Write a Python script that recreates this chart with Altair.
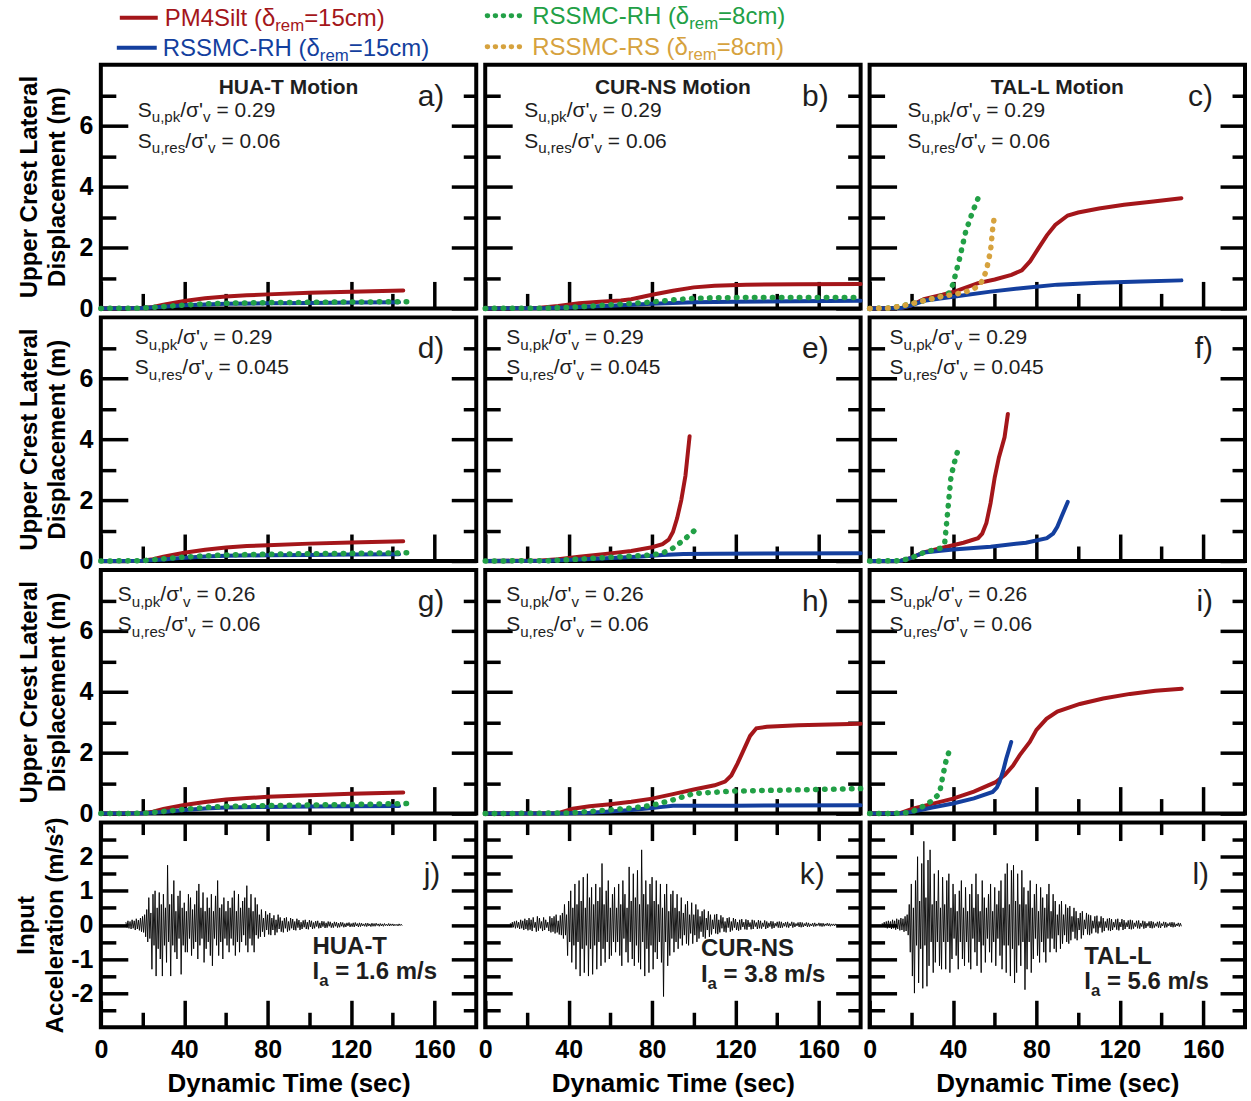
import altair as alt
import pandas as pd

FONT = "Liberation Sans, Arial, sans-serif"

# ---------------- data: displacement curves (t [s], displacement [m]) ----------------
A_PM4 = [(0, 0), (20, 0.01), (25, 0.05), (30, 0.12), (40, 0.24), (50, 0.33), (60, 0.39), (70, 0.43), (80, 0.46), (100, 0.51), (120, 0.55), (145, 0.59)]
A_RH15 = [(0, 0), (20, 0.01), (30, 0.05), (40, 0.1), (50, 0.13), (60, 0.15), (80, 0.17), (100, 0.18), (120, 0.19), (143, 0.2)]
A_RH8 = [(0, 0), (20, 0.01), (30, 0.06), (40, 0.11), (50, 0.15), (60, 0.17), (80, 0.19), (100, 0.2), (120, 0.21), (148, 0.22)]

B_PM4 = [(0, 0), (25, 0.01), (35, 0.08), (45, 0.17), (55, 0.22), (65, 0.26), (70, 0.3), (80, 0.45), (90, 0.58), (100, 0.69), (110, 0.74), (125, 0.78), (150, 0.79), (180, 0.8)]
B_RH15 = [(0, 0), (30, 0.01), (40, 0.03), (50, 0.06), (60, 0.09), (70, 0.12), (80, 0.15), (90, 0.18), (100, 0.2), (120, 0.22), (180, 0.25)]
B_RH8 = [(0, 0), (30, 0.01), (40, 0.03), (50, 0.07), (60, 0.12), (70, 0.16), (80, 0.21), (90, 0.28), (100, 0.33), (110, 0.35), (130, 0.36), (180, 0.36)]

C_PM4 = [(0, 0), (15, 0.01), (20, 0.1), (26, 0.3), (35, 0.45), (41, 0.56), (52, 0.83), (60, 0.95), (68, 1.1), (73, 1.25), (77, 1.55), (81, 1.98), (85, 2.4), (89, 2.74), (95, 3.05), (100, 3.15), (110, 3.28), (122, 3.4), (135, 3.5), (149.5, 3.62)]
C_RH15 = [(0, 0), (15, 0.01), (20, 0.1), (26, 0.25), (40, 0.38), (58, 0.55), (75, 0.68), (90, 0.78), (110, 0.84), (130, 0.88), (149.5, 0.92)]
C_RH8 = [(0, 0), (10, 0.01), (18, 0.12), (26, 0.25), (34, 0.39), (38, 0.5), (40, 0.8), (43, 1.6), (46, 2.5), (49, 3.1), (52, 3.62)]
C_RS8 = [(0, 0), (10, 0.01), (18, 0.12), (26, 0.25), (34, 0.38), (42, 0.48), (48, 0.58), (52, 0.72), (54, 0.9), (56, 1.25), (58, 1.9), (59, 2.6), (60, 3.1)]

D_PM4 = [(0, 0), (20, 0.01), (25, 0.06), (30, 0.14), (40, 0.27), (50, 0.37), (60, 0.44), (70, 0.49), (80, 0.52), (100, 0.57), (120, 0.61), (145, 0.65)]
D_RH15 = [(0, 0), (20, 0.01), (30, 0.05), (40, 0.11), (50, 0.15), (60, 0.17), (80, 0.19), (100, 0.2), (120, 0.21), (143, 0.22)]
D_RH8 = [(0, 0), (20, 0.01), (30, 0.07), (40, 0.13), (50, 0.17), (60, 0.2), (80, 0.22), (100, 0.24), (120, 0.25), (148, 0.27)]

E_PM4 = [(0, 0), (25, 0.01), (35, 0.06), (45, 0.14), (60, 0.25), (70, 0.33), (80, 0.45), (85, 0.55), (88, 0.7), (90, 0.95), (92, 1.4), (94, 2.0), (96, 2.8), (98, 4.1)]
E_RH15 = [(0, 0), (30, 0.01), (45, 0.05), (60, 0.1), (75, 0.15), (85, 0.2), (95, 0.23), (110, 0.24), (180, 0.25)]
E_RH8 = [(0, 0), (30, 0.01), (45, 0.06), (60, 0.12), (75, 0.18), (80, 0.2), (85, 0.26), (90, 0.42), (95, 0.68), (100, 0.98), (103, 1.17)]

F_PM4 = [(0, 0), (15, 0.01), (20, 0.1), (26, 0.28), (34, 0.42), (45, 0.6), (52, 0.75), (54, 0.9), (56, 1.25), (58, 1.9), (60, 2.75), (62, 3.4), (64.7, 4.06), (66.3, 4.83)]
F_RH15 = [(0, 0), (15, 0.01), (20, 0.1), (26, 0.28), (40, 0.38), (58, 0.47), (75, 0.6), (85, 0.75), (88, 0.9), (90, 1.12), (92, 1.45), (95, 1.94)]
F_RH8 = [(0, 0), (15, 0.01), (20, 0.1), (26, 0.28), (34, 0.42), (36, 0.58), (37.5, 1.67), (39, 2.75), (40.5, 3.2), (42.3, 3.63)]

G_PM4 = [(0, 0), (20, 0.01), (25, 0.06), (30, 0.15), (40, 0.28), (50, 0.38), (60, 0.46), (70, 0.51), (80, 0.55), (100, 0.6), (120, 0.65), (145, 0.69)]
G_RH15 = [(0, 0), (20, 0.01), (30, 0.05), (40, 0.12), (50, 0.17), (60, 0.2), (80, 0.22), (100, 0.23), (120, 0.24), (143, 0.25)]
G_RH8 = [(0, 0), (20, 0.01), (30, 0.07), (40, 0.14), (50, 0.2), (60, 0.24), (80, 0.26), (100, 0.28), (120, 0.3), (148, 0.33)]

H_PM4 = [(0, 0), (35, 0.01), (42, 0.16), (50, 0.24), (60, 0.31), (70, 0.39), (80, 0.49), (90, 0.64), (100, 0.79), (110, 0.93), (115, 1.05), (118, 1.25), (121, 1.65), (124, 2.1), (127, 2.55), (130, 2.8), (135, 2.85), (150, 2.9), (180, 2.95)]
H_RH15 = [(0, 0), (40, 0.01), (50, 0.03), (60, 0.07), (70, 0.12), (80, 0.18), (85, 0.22), (90, 0.26), (120, 0.26), (180, 0.27)]
H_RH8 = [(0, 0), (40, 0.02), (50, 0.07), (60, 0.12), (70, 0.18), (80, 0.27), (90, 0.45), (100, 0.66), (110, 0.7), (120, 0.74), (150, 0.78), (180, 0.82)]

I_PM4 = [(0, 0), (15, 0.02), (20.7, 0.16), (30, 0.32), (40, 0.49), (50, 0.72), (60.7, 1.04), (65, 1.28), (68.8, 1.58), (72, 1.92), (76.8, 2.35), (80, 2.75), (84.8, 3.11), (90, 3.35), (100.8, 3.6), (112, 3.78), (124.9, 3.93), (137, 4.03), (149.7, 4.1)]
I_RH15 = [(0, 0), (15, 0.01), (20, 0.05), (30, 0.2), (40, 0.33), (50, 0.5), (59, 0.71), (61, 0.85), (62.3, 1.04), (64, 1.4), (65.5, 1.8), (67.9, 2.35)]
I_RH8 = [(0, 0), (15, 0.01), (20, 0.05), (26, 0.25), (30.3, 0.44), (33.5, 0.66), (35, 1.2), (36.7, 1.75), (38.3, 2.08)]

PANEL_SERIES = [
    {"PM4": A_PM4, "RH15": A_RH15, "RH8": A_RH8},
    {"PM4": B_PM4, "RH15": B_RH15, "RH8": B_RH8},
    {"PM4": C_PM4, "RH15": C_RH15, "RH8": C_RH8, "RS8": C_RS8},
    {"PM4": D_PM4, "RH15": D_RH15, "RH8": D_RH8},
    {"PM4": E_PM4, "RH15": E_RH15, "RH8": E_RH8},
    {"PM4": F_PM4, "RH15": F_RH15, "RH8": F_RH8},
    {"PM4": G_PM4, "RH15": G_RH15, "RH8": G_RH8},
    {"PM4": H_PM4, "RH15": H_RH15, "RH8": H_RH8},
    {"PM4": I_PM4, "RH15": I_RH15, "RH8": I_RH8},
]

# ---------------- data: input accelerations (1-s steps; peak +, peak -) ----------------
HUA_START = 12
HUA_POS = [0.08, 0.12, 0.1, 0.15, 0.12, 0.18, 0.14, 0.2, 0.25, 0.3,
           0.45, 0.8, 0.35, 0.9, 1.0, 0.5, 0.95, 0.6, 0.9,
           0.5, 1.75, 0.6, 0.9, 1.3, 0.4, 0.85, 1.0, 0.5, 0.65,
           0.4, 0.9, 0.8, 0.45, 0.6, 1.0, 1.2, 0.5, 0.95, 0.4,
           0.8, 0.5, 0.9, 0.4, 0.85, 1.3, 0.5, 0.6, 0.8, 0.4,
           0.7, 0.5, 0.8, 1.0, 0.4, 0.9, 0.5, 0.7, 0.8, 1.15,
           0.5, 0.9, 0.4, 0.8, 0.6, 0.3, 0.45, 0.2, 0.4, 0.3,
           0.35, 0.2, 0.28, 0.15, 0.3, 0.22, 0.12, 0.2, 0.22, 0.1,
           0.2, 0.17, 0.1, 0.18, 0.14, 0.08, 0.13, 0.15, 0.08, 0.14,
           0.12, 0.07, 0.11, 0.12, 0.06, 0.11, 0.1, 0.06, 0.1, 0.09,
           0.05, 0.09, 0.08, 0.05, 0.08, 0.07, 0.04, 0.06, 0.07, 0.04,
           0.06, 0.07, 0.04, 0.06, 0.05, 0.03, 0.05, 0.05, 0.03, 0.05,
           0.04, 0.05, 0.03, 0.04, 0.03, 0.04, 0.02, 0.04, 0.03, 0.03, 0.02, 0.02, 0.03, 0.02]
HUA_NEG = [-0.07, -0.1, -0.12, -0.1, -0.15, -0.12, -0.16, -0.2, -0.22, -0.35,
           -0.5, -0.4, -1.3, -0.6, -1.5, -0.7, -1.0, -1.5, -0.6,
           -1.1, -0.5, -1.5, -0.6, -0.8, -1.0, -0.4, -1.45, -0.6, -0.8,
           -0.8, -0.4, -0.9, -0.7, -0.5, -1.0, -0.6, -0.4, -1.1, -0.7,
           -0.5, -0.9, -1.2, -0.4, -0.6, -0.9, -0.5, -1.0, -0.4, -0.6,
           -0.8, -0.4, -0.6, -0.9, -0.5, -0.8, -0.5, -0.3, -0.6, -0.8,
           -0.4, -0.6, -0.8, -0.3, -0.4, -0.35, -0.2, -0.35, -0.15, -0.28,
           -0.3, -0.15, -0.3, -0.22, -0.12, -0.2, -0.22, -0.1, -0.2, -0.16,
           -0.1, -0.15, -0.16, -0.08, -0.15, -0.12, -0.07, -0.12, -0.13, -0.06,
           -0.12, -0.1, -0.05, -0.1, -0.09, -0.05, -0.09, -0.08, -0.04, -0.08,
           -0.08, -0.04, -0.08, -0.07, -0.04, -0.07, -0.06, -0.03, -0.06, -0.05,
           -0.06, -0.03, -0.06, -0.05, -0.03, -0.04, -0.05, -0.03, -0.05, -0.04,
           -0.04, -0.02, -0.04, -0.03, -0.04, -0.02, -0.03, -0.03, -0.02, -0.03, -0.02, -0.03, -0.02, -0.02]

CUR_START = 12
CUR_POS = [0.05, 0.08, 0.1, 0.12, 0.08, 0.15, 0.12, 0.18, 0.14, 0.2,
           0.15, 0.22, 0.08, 0.25, 0.2, 0.1, 0.22, 0.15, 0.08, 0.25,
           0.2, 0.25, 0.3, 0.12, 0.28, 0.35, 0.6, 0.3, 0.7, 1.0,
           0.5, 1.2, 0.6, 1.3, 0.7, 1.4, 0.5, 1.5, 0.8, 1.1,
           0.6, 1.2, 0.7, 1.1, 1.8, 0.6, 1.0, 1.3, 0.5, 0.9,
           1.1, 0.5, 1.2, 0.6, 1.3, 0.9, 0.5, 1.7, 0.7, 1.5,
           0.8, 1.6, 0.6, 2.2, 0.9, 1.3, 0.6, 1.2, 1.4, 0.7,
           1.3, 0.6, 1.2, 0.5, 0.9, 1.2, 0.4, 0.9, 1.0, 0.5,
           0.9, 0.4, 0.8, 0.35, 0.6, 0.7, 0.3, 0.65, 0.3, 0.6,
           0.45, 0.25, 0.4, 0.45, 0.2, 0.4, 0.3, 0.15, 0.3, 0.32,
           0.15, 0.28, 0.22, 0.1, 0.2, 0.22, 0.1, 0.2, 0.17, 0.08,
           0.15, 0.17, 0.08, 0.16, 0.14, 0.07, 0.15, 0.13, 0.07, 0.14,
           0.12, 0.06, 0.13, 0.1, 0.06, 0.11, 0.1, 0.05, 0.09, 0.1,
           0.09, 0.05, 0.08, 0.09, 0.04, 0.09, 0.07, 0.04, 0.07, 0.08,
           0.07, 0.04, 0.07, 0.06, 0.03, 0.05, 0.06, 0.03, 0.06, 0.05,
           0.05, 0.03, 0.05, 0.04, 0.03, 0.03, 0.03]
CUR_NEG = [-0.05, -0.07, -0.1, -0.08, -0.12, -0.1, -0.15, -0.12, -0.16, -0.14,
           -0.18, -0.08, -0.2, -0.17, -0.1, -0.18, -0.15, -0.08, -0.18, -0.22,
           -0.2, -0.25, -0.22, -0.28, -0.3, -0.4, -0.3, -0.9, -0.5, -1.1,
           -0.6, -1.3, -0.5, -1.5, -0.7, -1.4, -0.6, -1.5, -0.7, -1.45,
           -0.6, -1.3, -0.5, -1.2, -0.7, -1.1, -0.5, -1.0, -0.9, -0.5,
           -0.8, -0.5, -0.9, -1.2, -0.4, -0.8, -1.1, -0.5, -1.0, -1.2,
           -0.6, -1.1, -1.3, -0.5, -1.5, -0.7, -1.4, -0.6, -1.3, -0.8,
           -1.0, -0.5, -1.1, -2.1, -0.5, -1.2, -0.9, -0.4, -0.8, -0.5,
           -0.7, -0.4, -0.6, -0.3, -0.55, -0.6, -0.25, -0.55, -0.3, -0.5,
           -0.4, -0.2, -0.35, -0.4, -0.15, -0.35, -0.28, -0.12, -0.25, -0.27,
           -0.22, -0.1, -0.2, -0.22, -0.08, -0.2, -0.16, -0.08, -0.15, -0.17,
           -0.14, -0.06, -0.13, -0.14, -0.06, -0.13, -0.12, -0.05, -0.12, -0.1,
           -0.11, -0.05, -0.12, -0.09, -0.05, -0.11, -0.09, -0.04, -0.08, -0.09,
           -0.08, -0.04, -0.07, -0.08, -0.03, -0.08, -0.06, -0.03, -0.06, -0.07,
           -0.06, -0.03, -0.06, -0.05, -0.03, -0.05, -0.04, -0.02, -0.04, -0.05,
           -0.04, -0.02, -0.03, -0.04, -0.02, -0.03, -0.02]

TAL_START = 6
TAL_POS = [0.05, 0.08, 0.1, 0.12, 0.1, 0.15, 0.12, 0.18, 0.15, 0.2,
           0.18, 0.25, 0.3, 0.6, 1.2, 0.5, 1.3, 2.0, 0.7, 1.8,
           2.45, 0.8, 1.9, 2.2, 0.6, 1.5, 0.7, 1.6, 0.5, 1.4,
           0.6, 1.3, 1.5, 0.5, 1.2, 0.9, 0.4, 1.0, 1.3, 0.5,
           1.1, 0.4, 0.9, 1.2, 0.5, 1.5, 0.9, 0.4, 1.3, 0.8,
           0.5, 0.9, 1.2, 0.4, 1.1, 0.6, 1.0, 1.3, 0.5, 1.5,
           1.8, 0.6, 1.6, 1.75, 0.7, 1.5, 0.6, 1.6, 1.1, 0.6,
           1.0, 1.3, 0.5, 0.9, 1.2, 0.4, 1.1, 0.8, 0.5, 0.9,
           1.2, 0.4, 0.9, 0.7, 0.3, 0.6, 0.7, 0.3, 0.6, 0.5,
           0.55, 0.25, 0.5, 0.4, 0.2, 0.35, 0.4, 0.15, 0.35, 0.3,
           0.28, 0.12, 0.25, 0.27, 0.1, 0.25, 0.2, 0.1, 0.18, 0.2,
           0.17, 0.08, 0.16, 0.18, 0.08, 0.17, 0.14, 0.07, 0.13, 0.15,
           0.13, 0.06, 0.12, 0.13, 0.05, 0.12, 0.1, 0.05, 0.1, 0.11,
           0.09, 0.04, 0.09, 0.1, 0.04, 0.09, 0.08, 0.04, 0.07, 0.08,
           0.07, 0.03, 0.06, 0.05]
TAL_NEG = [-0.05, -0.07, -0.1, -0.08, -0.12, -0.1, -0.14, -0.12, -0.16, -0.15,
           -0.2, -0.18, -0.3, -0.8, -1.5, -2.0, -0.6, -1.7, -0.7, -1.86,
           -0.6, -1.8, -1.2, -0.5, -1.4, -1.1, -0.5, -1.2, -1.3, -0.5,
           -1.3, -0.5, -1.4, -1.0, -0.4, -0.9, -1.3, -0.5, -1.0, -1.2,
           -0.5, -1.1, -1.3, -0.4, -0.8, -1.2, -0.5, -1.4, -0.6, -1.1,
           -0.4, -0.8, -1.1, -0.5, -1.2, -0.4, -0.9, -1.3, -0.6, -1.4,
           -0.6, -1.5, -0.7, -1.7, -1.4, -0.6, -1.2, -0.5, -1.9, -1.3,
           -0.5, -1.4, -1.0, -0.4, -0.9, -1.1, -0.5, -0.8, -1.1, -0.4,
           -0.8, -0.4, -0.7, -0.8, -0.3, -0.7, -0.55, -0.3, -0.5, -0.55,
           -0.45, -0.2, -0.4, -0.45, -0.15, -0.4, -0.3, -0.12, -0.28, -0.3,
           -0.25, -0.1, -0.22, -0.25, -0.08, -0.22, -0.18, -0.08, -0.16, -0.18,
           -0.15, -0.07, -0.14, -0.16, -0.06, -0.15, -0.12, -0.06, -0.12, -0.13,
           -0.11, -0.05, -0.1, -0.11, -0.05, -0.11, -0.09, -0.04, -0.09, -0.1,
           -0.08, -0.04, -0.08, -0.09, -0.03, -0.08, -0.07, -0.03, -0.06, -0.07,
           -0.06, -0.03, -0.05, -0.04]

ACCEL = [(HUA_START, HUA_POS, HUA_NEG), (CUR_START, CUR_POS, CUR_NEG), (TAL_START, TAL_POS, TAL_NEG)]

# ---------------- text ----------------
MOTIONS = ["HUA-T", "CUR-NS", "TAL-L"]
IA_VALUES = ["1.6", "3.8", "5.6"]
SU_PK = ["0.29", "0.29", "0.29", "0.29", "0.29", "0.29", "0.26", "0.26", "0.26"]
SU_RES = ["0.06", "0.06", "0.06", "0.045", "0.045", "0.045", "0.06", "0.06", "0.06"]
LETTERS = ["a)", "b)", "c)", "d)", "e)", "f)", "g)", "h)", "i)", "j)", "k)", "l)"]
LEGEND_NAMES = ["PM4Silt", "RSSMC-RH", "RSSMC-RH", "RSSMC-RS"]
LEGEND_DREM = ["15cm", "8cm", "15cm", "8cm"]
LEGEND_KEYS = ["PM4", "RH8", "RH15", "RS8"]
Y_TITLE_DISP = ["Upper Crest Lateral", "Displacement (m)"]
Y_TITLE_ACC = ["Input", "Acceleration (m/s\u00b2)"]
X_TITLE = "Dynamic Time (sec)"

# ---------------- styles ----------------
COLORS = {"PM4": "#a4161a", "RH15": "#143f9e", "RH8": "#22a046", "RS8": "#d6a23e"}
DOTTED = {"PM4": False, "RH15": False, "RH8": True, "RS8": True}
PW, PH, PH_ACC = 376, 244, 205
TXT = "#1e1e1e"

W_REG = {' ': 278, '(': 333, ')': 333, '=': 584, '.': 278, ',': 278, '/': 278, "'": 191, '-': 333,
         'A': 667, 'C': 722, 'H': 722, 'I': 278, 'L': 556, 'M': 833, 'N': 722, 'P': 667, 'R': 722,
         'S': 667, 'T': 611, 'U': 722, 'a': 556, 'c': 500, 'e': 556, 'i': 222, 'k': 500, 'l': 222,
         'm': 833, 'n': 556, 'o': 556, 'p': 556, 'r': 333, 's': 500, 't': 278, 'u': 556, 'v': 500,
         '\u03b4': 556, '\u03c3': 617}
W_BOLD = {' ': 278, '=': 584, '.': 278, '/': 278, '-': 333, 'A': 722, 'C': 722, 'H': 722, 'I': 278,
          'L': 611, 'N': 722, 'R': 722, 'S': 667, 'T': 611, 'U': 722, 'a': 556, 'm': 889, 's': 556}

ONE = pd.DataFrame({"k": [0]})
AXD = pd.DataFrame({"t": [0.0], "v": [0.0]})


def text_width(s, size, bold=False):
    tbl = W_BOLD if bold else W_REG
    return sum(tbl.get(ch, 556) for ch in s) * size / 1000.0


def rich(pieces, x, y, size, bold=False, color=TXT, subscale=0.7, drop=0.27):
    out = []
    cx = x
    for txt, sub in pieces:
        fs = size * subscale if sub else size
        yy = y + size * drop if sub else y
        lead = len(txt) - len(txt.lstrip(" "))
        if lead:
            cx += text_width(" " * lead, fs, bold)
            txt = txt.lstrip(" ")
        out.append(
            alt.Chart(ONE).mark_text(text=txt, align="left", baseline="alphabetic", font=FONT,
                                     fontSize=fs, fontWeight="bold" if bold else "normal", color=color)
            .encode(x=alt.value(cx), y=alt.value(yy))
        )
        cx += text_width(txt, fs, bold)
    return out


def plain(txt, x, y, size, bold=False, align="left", color=TXT):
    return alt.Chart(ONE).mark_text(text=txt, align=align, baseline="alphabetic", font=FONT, fontSize=size,
                                    fontWeight="bold" if bold else "normal", color=color
                                    ).encode(x=alt.value(x), y=alt.value(y))


def scales(acc):
    xs = alt.Scale(domain=[0, 180], nice=False, zero=False)
    ys = alt.Scale(domain=[-3, 3] if acc else [0, 8], nice=False, zero=False)
    return xs, ys


def axis_layers(row, col):
    acc = row == 3
    xs, ys = scales(acc)
    ymaj = [-2, -1, 0, 1, 2] if acc else [0, 2, 4, 6]
    ymin = [-2.5, -1.5, -0.5, 0.5, 1.5, 2.5] if acc else [1, 3, 5, 7]
    xmaj = [0, 40, 80, 120, 160]
    xmin = [20, 60, 100, 140]
    common = dict(grid=False, domain=False, ticks=True, tickColor="black", tickWidth=3.5,
                  labelFont=FONT, labelFontSize=25, labelFontWeight="bold", labelColor="black",
                  titleFont=FONT, titleFontWeight="bold", titleColor="black",
                  labelFlush=False, labelOverlap=False)
    ytitle = Y_TITLE_ACC if acc else Y_TITLE_DISP
    yl_major = alt.Axis(orient="left", values=ymaj, tickSize=27, offset=-27, labels=(col == 0),
                        labelPadding=8, labelExpr="replace(datum.label, '\u2212', '-')",
                        title=ytitle if col == 0 else None, titleFontSize=24,
                        titleLineHeight=29, titlePadding=(3 if acc else 9), **common)
    yl_minor = alt.Axis(orient="left", values=ymin, tickSize=15, offset=-15, labels=False, title=None, **common)
    yr_major = alt.Axis(orient="right", values=ymaj, tickSize=25, offset=-25, labels=False, title=None, **common)
    yr_minor = alt.Axis(orient="right", values=ymin, tickSize=13, offset=-13, labels=False, title=None, **common)
    xb_major = alt.Axis(orient="bottom", values=xmaj, tickSize=27, offset=-27, labels=acc, labelPadding=10,
                        title=X_TITLE if acc else None, titleFontSize=26, titlePadding=8, **common)
    xb_minor = alt.Axis(orient="bottom", values=xmin, tickSize=15, offset=-15, labels=False, title=None, **common)
    xt_major = alt.Axis(orient="top", values=xmaj, tickSize=18, offset=-18, labels=False, title=None, **common)
    xt_minor = alt.Axis(orient="top", values=xmin, tickSize=12, offset=-12, labels=False, title=None, **common)
    pairs = [(xb_major, yl_major), (xb_minor, yl_minor),
             (xt_major if acc else None, yr_major), (xt_minor if acc else None, yr_minor)]
    out = []
    for xa, ya in pairs:
        out.append(
            alt.Chart(AXD).mark_point(opacity=0).encode(
                x=alt.X("t:Q", scale=xs, axis=xa),
                y=alt.Y("v:Q", scale=ys, axis=ya),
            )
        )
    return out


def series_layer(pairs, key, xs, ys):
    df = pd.DataFrame(pairs, columns=["t", "v"])
    if DOTTED[key]:
        mk = alt.Chart(df).mark_line(color=COLORS[key], strokeWidth=5.5, strokeDash=[0.5, 8.5], strokeCap="round")
    else:
        mk = alt.Chart(df).mark_line(color=COLORS[key], strokeWidth=4, strokeCap="round")
    return mk.encode(x=alt.X("t:Q", scale=xs, axis=None), y=alt.Y("v:Q", scale=ys, axis=None))


# text placement (pixel offsets inside each panel)
ANN_X = [37, 39, 38, 34, 21, 20, 17, 21, 20]
ANN_Y = {0: (52, 83), 1: (27, 57), 2: (31, 61)}
MOTION_TXT_X = [212, 216, 215]
MOTION_TXT_Y = [(132, 157), (134, 160), (142, 167)]


def legend_layers():
    out = []
    pos = [(19, 57, -47, 64, -38.5), (387, 421, -49, 432, -40.5),
           (16, 56, -17, 62, -8.5), (387, 421, -18, 432, -9.5)]
    for (x1, x2, y, tx, ty), name, drem, key in zip(pos, LEGEND_NAMES, LEGEND_DREM, LEGEND_KEYS):
        if DOTTED[key]:
            r = alt.Chart(ONE).mark_rule(color=COLORS[key], strokeWidth=5, strokeDash=[0.5, 7.5], strokeCap="round")
        else:
            r = alt.Chart(ONE).mark_rule(color=COLORS[key], strokeWidth=4)
        out.append(r.encode(x=alt.value(x1), x2=alt.value(x2), y=alt.value(y)))
        out += rich([(name + " (\u03b4", False), ("rem", True), ("=" + drem + ")", False)], tx, ty, 24,
                    color=COLORS[key], drop=0.2)
    return out


panels = []
for row in range(4):
    for col in range(3):
        acc = row == 3
        xs, ys = scales(acc)
        layers = []
        if not acc:
            idx = row * 3 + col
            ser = PANEL_SERIES[idx]
            for key in ["PM4", "RH15", "RH8", "RS8"]:
                if key in ser:
                    layers.append(series_layer(ser[key], key, xs, ys))
            layers += axis_layers(row, col)
            ax = ANN_X[idx]
            y1, y2 = ANN_Y[row]
            layers += rich([("S", False), ("u,pk", True), ("/\u03c3'", False), ("v", True), (" = " + SU_PK[idx], False)],
                           ax, y1, 21, subscale=0.72)
            layers += rich([("S", False), ("u,res", True), ("/\u03c3'", False), ("v", True), (" = " + SU_RES[idx], False)],
                           ax, y2, 21, subscale=0.72)
            if row == 0:
                layers.append(plain(MOTIONS[col] + " Motion", PW / 2, 29, 21, bold=True, align="center"))
            layers.append(plain(LETTERS[idx], 344, 41, 30, align="right"))
            if row == 0 and col == 0:
                layers += legend_layers()
            h = PH
        else:
            start, pos, neg = ACCEL[col]
            rows_ = []
            for i, (p, n) in enumerate(zip(pos, neg)):
                rows_.append((start + i, p))
                rows_.append((start + i + 0.5, n))
            adf = pd.DataFrame(rows_, columns=["t", "v"])
            layers.append(alt.Chart(adf).mark_line(color="black", strokeWidth=0.9).encode(
                x=alt.X("t:Q", scale=xs, axis=None), y=alt.Y("v:Q", scale=ys, axis=None)))
            layers += axis_layers(row, col)
            layers.append(plain(LETTERS[9 + col], 340, 62, 30, align="right"))
            mx = MOTION_TXT_X[col]
            my1, my2 = MOTION_TXT_Y[col]
            layers.append(plain(MOTIONS[col], mx, my1, 24, bold=True))
            layers += rich([("I", False), ("a", True), (" = " + IA_VALUES[col] + " m/s", False)], mx, my2, 24,
                           bold=True)
            h = PH_ACC
        panel = alt.layer(*layers).resolve_axis(x="independent", y="independent").properties(width=PW, height=h)
        panels.append(panel)

chart = alt.concat(*panels, columns=3, spacing=9, bounds="flush").properties(
    padding={"left": 12, "top": 2, "right": 2, "bottom": 2},
    background="white",
).configure_view(stroke="black", strokeWidth=4)

chart.save("out.html", embed_options={"renderer": "svg", "actions": False})
